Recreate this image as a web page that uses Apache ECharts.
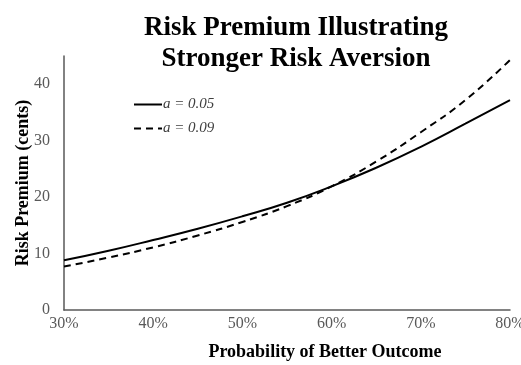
<!DOCTYPE html>
<html>
<head>
<meta charset="utf-8">
<script src="https://cdn.jsdelivr.net/npm/echarts@6/dist/echarts.min.js"></script>
<style>
  html, body { margin: 0; padding: 0; background: #fff; }
  #chart { width: 521px; height: 365px; }
</style>
</head>
<body>
<div id="chart"></div>
<script>
// 概率（%）
var probs = [30, 35, 40, 45, 50, 55, 60, 65, 70, 75, 80];
// 风险溢价 a = 0.05
var premiumLow = [8.8, 10.5, 12.4, 14.4, 16.6, 19.0, 21.9, 25.2, 28.9, 33.0, 37.2];
// 风险溢价 a = 0.09
var premiumHigh = [7.7, 9.3, 11.1, 13.2, 15.6, 18.4, 21.9, 26.3, 31.5, 37.2, 44.3];
var seriesNames = ['a = 0.05', 'a = 0.09'];

function pairs(xs, ys) {
	var out = [];
	for (var i = 0; i < xs.length; i++) {
		out.push([xs[i], ys[i]]);
	}
	return out;
}

var serif = '"Liberation Serif", "Times New Roman", serif';
var myChart = echarts.init(document.getElementById('chart'));

option = {
	animation: false,
	title: {
		text: 'Risk Premium Illustrating\nStronger Risk Aversion',
		left: 291,
		textAlign: 'center',
		top: 8,
		textStyle: {
			fontFamily: serif,
			fontWeight: 'bold',
			fontSize: 27,
			lineHeight: 31,
			color: '#000'
		}
	},
	legend: {
		orient: 'vertical',
		left: 128,
		top: 92,
		itemWidth: 28,
		itemHeight: 14,
		itemGap: 9,
		data: seriesNames,
		itemStyle: { opacity: 0 },
		textStyle: {
			fontFamily: serif,
			fontStyle: 'italic',
			fontSize: 15,
			color: '#404040',
			padding: [0, 0, 0, -4]
		}
	},
	grid: {
		left: 64,
		right: 11,
		top: 56,
		bottom: 55,
		outerBoundsMode: 'none'
	},
	xAxis: {
		type: 'value',
		min: 30,
		max: 80,
		interval: 10,
		name: 'Probability of Better Outcome',
		nameLocation: 'middle',
		nameGap: 33,
		nameTextStyle: {
			fontFamily: serif,
			fontWeight: 'bold',
			fontSize: 18,
			color: '#000',
			padding: [0, 0, 0, 76]
		},
		axisLine: { lineStyle: { color: '#595959', width: 1.5 } },
		axisTick: { show: false },
		splitLine: { show: false },
		axisLabel: {
			formatter: '{value}%',
			fontFamily: serif,
			fontSize: 16,
			color: '#595959',
			margin: 6
		}
	},
	yAxis: {
		type: 'value',
		min: 0,
		max: 45,
		interval: 10,
		name: 'Risk Premium (cents)',
		nameLocation: 'middle',
		nameGap: 32,
		nameMoveOverlap: false,
		nameTextStyle: {
			fontFamily: serif,
			fontWeight: 'bold',
			fontSize: 18,
			color: '#000'
		},
		axisLine: { show: true, lineStyle: { color: '#595959', width: 1.5 } },
		axisTick: { show: false },
		splitLine: { show: false },
		axisLabel: {
			showMaxLabel: false,
			fontFamily: serif,
			fontSize: 16,
			color: '#595959',
			margin: 14
		}
	},
	series: [
		{
			name: seriesNames[0],
			type: 'line',
			smooth: true,
			symbol: 'none',
			data: pairs(probs, premiumLow),
			lineStyle: { color: '#000', width: 2 },
			itemStyle: { color: '#000' }
		},
		{
			name: seriesNames[1],
			type: 'line',
			smooth: true,
			symbol: 'none',
			data: pairs(probs, premiumHigh),
			lineStyle: { color: '#000', width: 2, type: [7, 5] },
			itemStyle: { color: '#000' }
		}
	]
};

myChart.setOption(option);
</script>
</body>
</html>
